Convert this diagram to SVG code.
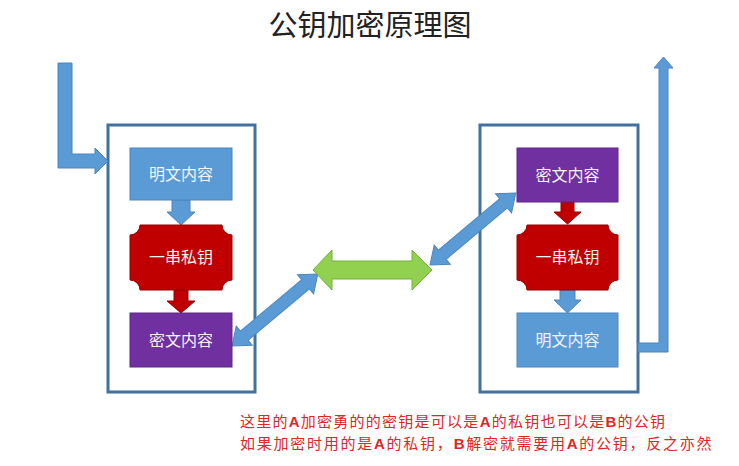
<svg xmlns="http://www.w3.org/2000/svg" width="739" height="466" viewBox="0 0 739 466">
<style>
.frame{fill:#fff;stroke:#41719C;stroke-width:3}
.blue{fill:#5B9BD5;stroke:#4A86C0;stroke-width:1}
.red{fill:#C00000;stroke:#9A0000;stroke-width:1}
.purple{fill:#7030A0;stroke:#5E2788;stroke-width:1}
.green{fill:#92D050;stroke:#74AE3A;stroke-width:1}
.lbl{font-family:"Noto Sans CJK SC","Liberation Sans",sans-serif;font-size:16px;fill:#F4F4F4;text-anchor:middle}
.title{font-family:"Noto Sans CJK SC","Liberation Sans",sans-serif;font-size:29px;fill:#222;text-anchor:middle}
.note{font-family:"Noto Sans CJK SC","Liberation Sans",sans-serif;font-size:15px;fill:#E02525}
.ab{font-family:"Liberation Sans","Noto Sans CJK SC",sans-serif;font-weight:bold}
</style>
<rect width="739" height="466" fill="#fff"/>
<text class="title" x="370" y="36">公钥加密原理图</text>

<g id="sender">
<rect class="frame" x="108" y="125" width="147" height="267"/>
</g>
<g id="receiver">
<rect class="frame" x="480" y="125" width="158" height="267"/>
</g>

<g id="connectors">
<path class="blue" d="M58,63 H72 V154 H95 V148 L108,161 L95,174 V168 H58 Z"/>
<path class="blue" d="M638,343 H659 V68 H654 L663.5,57 L673,68 H668 V352 H638 Z"/>
<path class="blue" d="M172,200 H190 V212 H195 L181,225 L167,212 H172 Z"/>
<path class="red" d="M174,290 H188 V301 H195 L181,313 L167,301 H174 Z"/>
<path class="red" d="M561,202 H574 V212 H581 L567.5,224 L554,212 H561 Z"/>
<path class="blue" d="M560,290 H575 V300 H581 L567.5,313 L554,300 H560 Z"/>
<path class="blue" transform="translate(232,346) rotate(-40)" d="M0,0 L16,-12.5 V-6 H96 V-12.5 L112,0 L96,12.5 V6 H16 V12.5 Z"/>
<path class="blue" transform="translate(430,265) rotate(-40)" d="M0,0 L16,-12.5 V-6 H96 V-12.5 L112,0 L96,12.5 V6 H16 V12.5 Z"/>
<path class="green" d="M313,270 L332,250 V261 H412 V250 L432,270 L412,290 V279 H332 V290 Z"/>
</g>

<g id="plain-left">
<rect class="blue" x="130" y="148" width="102" height="52"/>
<text class="lbl" x="181" y="180">明文内容</text>
</g>
<g id="key-left">
<path class="red" d="M140,225 H222 A10,10 0 0 0 232,235 V280 A10,10 0 0 0 222,290 H140 A10,10 0 0 0 130,280 V235 A10,10 0 0 0 140,225 Z"/>
<text class="lbl" x="181" y="263">一串私钥</text>
</g>
<g id="cipher-left">
<rect class="purple" x="130" y="313" width="102" height="54"/>
<text class="lbl" x="181" y="346">密文内容</text>
</g>

<g id="cipher-right">
<rect class="purple" x="517" y="148" width="101" height="54"/>
<text class="lbl" x="567.5" y="181">密文内容</text>
</g>
<g id="key-right">
<path class="red" d="M527,225 H608 A10,10 0 0 0 618,235 V280 A10,10 0 0 0 608,290 H527 A10,10 0 0 0 517,280 V235 A10,10 0 0 0 527,225 Z"/>
<text class="lbl" x="567.5" y="263">一串私钥</text>
</g>
<g id="plain-right">
<rect class="blue" x="517" y="313" width="101" height="54"/>
<text class="lbl" x="567.5" y="346">明文内容</text>
</g>

<text class="note" x="240" y="427" letter-spacing="1.25">这里的<tspan class="ab">A</tspan>加密勇的的密钥是可以是<tspan class="ab">A</tspan>的私钥也可以是<tspan class="ab">B</tspan>的公钥</text>
<text class="note" x="240" y="449" letter-spacing="1.75">如果加密时用的是<tspan class="ab">A</tspan>的私钥，<tspan class="ab">B</tspan>解密就需要用<tspan class="ab">A</tspan>的公钥，反之亦然</text>
</svg>
